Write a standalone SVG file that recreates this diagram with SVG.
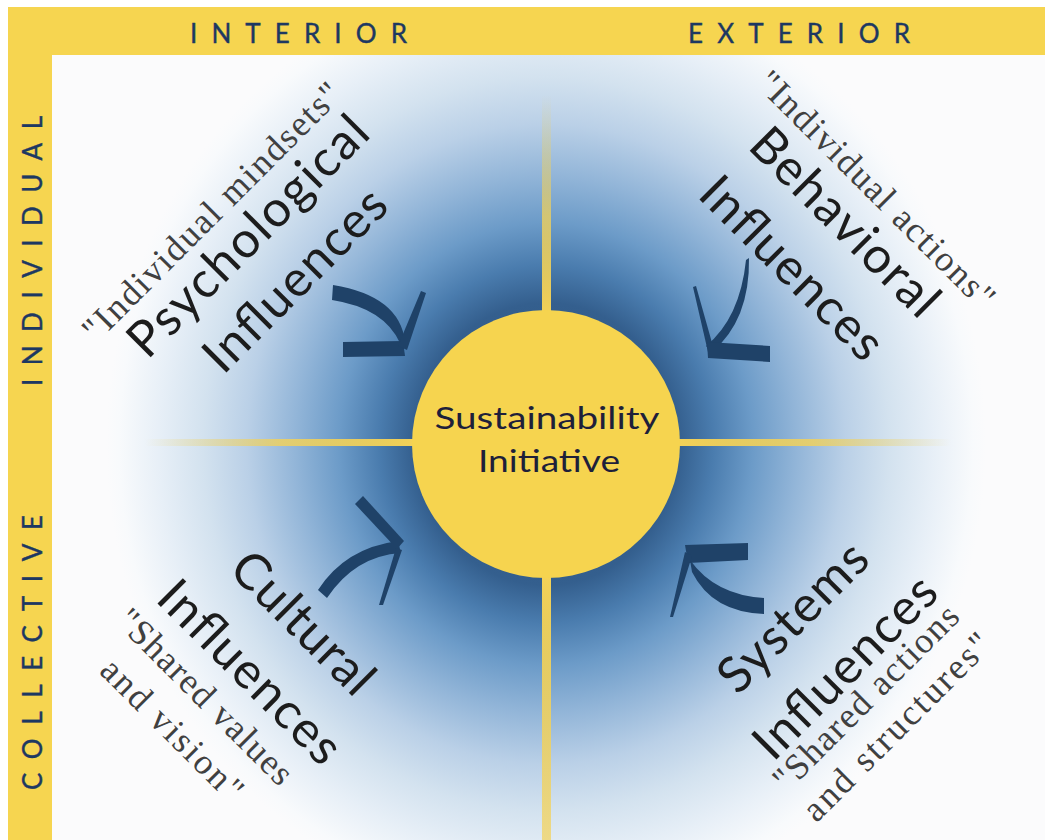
<svg xmlns="http://www.w3.org/2000/svg" width="1045" height="840" viewBox="0 0 1045 840">
  <defs>
    <radialGradient id="glow" gradientUnits="userSpaceOnUse" cx="546" cy="444" r="440" gradientTransform="translate(546 444) scale(1 1.07) translate(-546 -444)">
      <stop offset="0" stop-color="#264f7c"/>
      <stop offset="0.3" stop-color="#345f8e"/>
      <stop offset="0.38" stop-color="#4a7cae"/>
      <stop offset="0.47" stop-color="#6c9bc8"/>
      <stop offset="0.57" stop-color="#92b5d8"/>
      <stop offset="0.68" stop-color="#bad0e7"/>
      <stop offset="0.78" stop-color="#d3e2ef"/>
      <stop offset="0.88" stop-color="#e7eff7"/>
      <stop offset="0.97" stop-color="#f8fafc"/>
      <stop offset="1" stop-color="#fbfbfc"/>
    </radialGradient>
    <linearGradient id="fadeUp" x1="0" y1="0" x2="0" y2="1">
      <stop offset="0" stop-color="#f4d257" stop-opacity="0"/>
      <stop offset="0.55" stop-color="#f4d257" stop-opacity="0.75"/>
      <stop offset="1" stop-color="#f4d257"/>
    </linearGradient>
    <linearGradient id="fadeDown" x1="0" y1="0" x2="0" y2="1">
      <stop offset="0" stop-color="#f4d257"/>
      <stop offset="1" stop-color="#f4d257" stop-opacity="0.7"/>
    </linearGradient>
    <linearGradient id="fadeLeft" x1="0" y1="0" x2="1" y2="0">
      <stop offset="0" stop-color="#f4d257" stop-opacity="0"/>
      <stop offset="0.5" stop-color="#f4d257" stop-opacity="0.8"/>
      <stop offset="1" stop-color="#f4d257"/>
    </linearGradient>
    <linearGradient id="fadeRight" x1="0" y1="0" x2="1" y2="0">
      <stop offset="0" stop-color="#f4d257"/>
      <stop offset="0.5" stop-color="#f4d257" stop-opacity="0.8"/>
      <stop offset="1" stop-color="#f4d257" stop-opacity="0"/>
    </linearGradient>
    <style>
      .frame { fill: #f6d550; }
      .axis { font-family: Lato, "Open Sans", sans-serif; font-size: 26px; fill: #1d3862; stroke: #1d3862; stroke-width: 0.4; }
      .big { font-family: Lato, "Open Sans", sans-serif; font-size: 50px; fill: #1c1c1c; text-anchor: middle; }
      .quote { font-family: "Liberation Serif", "DejaVu Serif", serif; font-size: 36px; fill: #404040; text-anchor: middle; }
      .center { font-family: Lato, "Open Sans", sans-serif; font-size: 30px; fill: #1e1f3a; text-anchor: middle; }
      .arrow { fill: #1f4268; }
    </style>
  </defs>

  <rect x="0" y="0" width="1045" height="840" fill="#ffffff"/>
  <rect x="52" y="55" width="993" height="785" fill="url(#glow)"/>

  <g id="frame">
    <rect class="frame" x="8" y="7" width="1037" height="48"/>
    <rect class="frame" x="8" y="7" width="44" height="833"/>
    <text class="axis" x="190" y="43" textLength="217" lengthAdjust="spacing">INTERIOR</text>
    <text class="axis" x="688" y="43" textLength="222" lengthAdjust="spacing">EXTERIOR</text>
    <text class="axis" transform="translate(42,386) rotate(-90)" textLength="270" lengthAdjust="spacing">INDIVIDUAL</text>
    <text class="axis" transform="translate(42,790) rotate(-90)" textLength="275" lengthAdjust="spacing">COLLECTIVE</text>
  </g>

  <g id="axes">
    <rect x="542" y="95" width="9" height="220" fill="url(#fadeUp)"/>
    <rect x="542" y="575" width="9" height="265" fill="url(#fadeDown)"/>
    <rect x="145" y="439" width="272" height="7" fill="url(#fadeLeft)"/>
    <rect x="676" y="439" width="275" height="7" fill="url(#fadeRight)"/>
  </g>

  <g id="center-node">
    <circle cx="546" cy="444" r="134" fill="#f6d44f"/>
    <text class="center" x="547" y="429" textLength="225" lengthAdjust="spacingAndGlyphs">Sustainability</text>
    <text class="center" x="549" y="472" textLength="142" lengthAdjust="spacingAndGlyphs">Initiative</text>
  </g>

  <g id="psychological">
    <text class="quote" transform="translate(220,220) rotate(-45)" textLength="350" lengthAdjust="spacing">"Individual mindsets"</text>
    <text class="big" transform="translate(260,248) rotate(-45)" textLength="318" lengthAdjust="spacing">Psychological</text>
    <text class="big" transform="translate(307,292) rotate(-45)" textLength="237" lengthAdjust="spacing">Influences</text>
  </g>

  <g id="behavioral">
    <text class="quote" transform="translate(868,198) rotate(45)" textLength="320" lengthAdjust="spacing">"Individual actions"</text>
    <text class="big" transform="translate(833,234) rotate(45)" textLength="245" lengthAdjust="spacing">Behavioral</text>
    <text class="big" transform="translate(780,280) rotate(45)" textLength="237" lengthAdjust="spacing">Influences</text>
  </g>

  <g id="cultural">
    <text class="big" transform="translate(291,635) rotate(45)" textLength="180" lengthAdjust="spacing">Cultural</text>
    <text class="big" transform="translate(238,684) rotate(45)" textLength="237" lengthAdjust="spacing">Influences</text>
    <text class="quote" transform="translate(197,705) rotate(45)" textLength="233" lengthAdjust="spacing">"Shared values</text>
    <text class="quote" transform="translate(164,738) rotate(45)" textLength="186" lengthAdjust="spacing">and vision"</text>
  </g>

  <g id="systems">
    <text class="big" transform="translate(805,629) rotate(-45)" textLength="190" lengthAdjust="spacing">Systems</text>
    <text class="big" transform="translate(857,679) rotate(-45)" textLength="237" lengthAdjust="spacing">Influences</text>
    <text class="quote" transform="translate(874,706) rotate(-45)" textLength="247" lengthAdjust="spacing">"Shared actions</text>
    <text class="quote" transform="translate(905,735) rotate(-45)" textLength="250" lengthAdjust="spacing">and structures"</text>
  </g>

  <g id="connectors">
    <g id="arrow-psychological">
      <path class="arrow" d="M333 285 Q400 296 405 342 L400 343 Q384 308 332 300 Z"/>
      <polygon class="arrow" points="343,342 403,341 405,356 343,357"/>
      <polygon class="arrow" points="398,346 421,291 426,293 407,350"/>
    </g>
    <g id="arrow-behavioral">
      <path class="arrow" d="M749 258 Q750 320 712 352 L706 346 Q740 318 746 260 Z"/>
      <polygon class="arrow" points="693,287 696,286 714,350 708,352"/>
      <polygon class="arrow" points="707,342 770,346 770,362 708,358"/>
    </g>
    <g id="arrow-cultural">
      <path class="arrow" d="M318 590 Q345 548 398 541 L401 553 Q355 556 327 598 Z"/>
      <polygon class="arrow" points="355,504 363,496 404,541 397,549"/>
      <polygon class="arrow" points="396,548 402,550 383,605 379,605"/>
    </g>
    <g id="arrow-systems">
      <polygon class="arrow" points="685,545 748,543 748,560 688,563"/>
      <polygon class="arrow" points="685,552 692,556 673,617 670,617"/>
      <path class="arrow" d="M690 560 Q715 595 764 598 L764 614 Q712 612 692 572 Z"/>
    </g>
  </g>
</svg>
